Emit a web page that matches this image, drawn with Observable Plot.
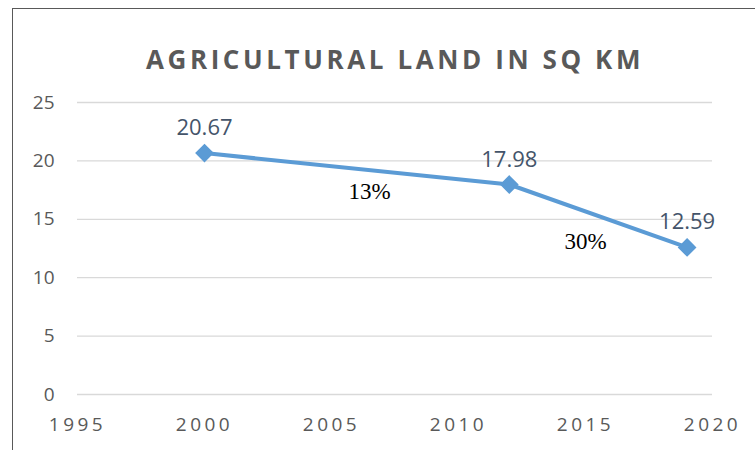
<!DOCTYPE html>
<html>
<head>
<meta charset="utf-8">
<script src="https://cdn.jsdelivr.net/npm/d3@7"></script>
<script src="https://cdn.jsdelivr.net/npm/@observablehq/plot@0.6"></script>
<style>
  body { margin: 0; background: #fff; }
  #wrap { position: relative; width: 755px; height: 450px; overflow: hidden; }
  #border { position: absolute; left: 12px; top: 8px; width: 800px; height: 500px; border: 1.5px solid #595959; }
  #chart { position: absolute; left: 0; top: 0; }
  #chart [aria-label="x-axis tick label"] text { letter-spacing: 3.5px; }
</style>
</head>
<body>
<div id="wrap"><div id="border"></div><div id="chart"></div></div>
<script>
const title = "AGRICULTURAL LAND IN SQ KM";
const years = [2000, 2012, 2019];
const values = [20.67, 17.98, 12.59];
const valueLabels = ["20.67", "17.98", "12.59"];
const xTicks = [1995, 2000, 2005, 2010, 2015, 2020];
const yTicks = [0, 5, 10, 15, 20, 25];
const noteLabels = ["13%", "30%"];
const noteX = [2006.5, 2015.0];
const noteY = [17.4, 13.05];

const points = years.map((y, i) => ({year: y, value: values[i], label: valueLabels[i]}));
const notes = noteLabels.map((t, i) => ({x: noteX[i], y: noteY[i], t}));

const chart = Plot.plot({
  width: 755,
  height: 450,
  marginLeft: 77,
  marginRight: 43,
  marginTop: 102,
  marginBottom: 56,
  style: {fontFamily: "'Open Sans', sans-serif", background: "transparent"},
  x: {domain: [1995, 2020]},
  y: {domain: [0, 25]},
  marks: [
    Plot.gridY(yTicks, {stroke: "#d9d9d9", strokeOpacity: 1, strokeWidth: 1.3}),
    Plot.axisY(yTicks, {tickSize: 0, tickPadding: 23, fontSize: 19, fill: "#595959", label: null}),
    Plot.axisX(xTicks, {tickSize: 0, tickPadding: 23, fontSize: 19, fill: "#595959", label: null, tickFormat: d => String(d)}),
    Plot.line(points, {x: "year", y: "value", stroke: "#5B9BD5", strokeWidth: 4}),
    Plot.dot(points, {x: "year", y: "value", symbol: "diamond2", r: 7.5, fill: "#5B9BD5", stroke: "#5B9BD5"}),
    Plot.text(points, {x: "year", y: "value", text: "label", dy: -25, fontSize: 22, fill: "#44546A"}),
    Plot.text(notes, {x: "x", y: "y", text: "t", fontSize: 23, fill: "#000", fontFamily: "'Liberation Serif', serif"}),
    Plot.text([title], {frameAnchor: "top", dy: -52, fontSize: 26, fontWeight: "bold", fill: "#595959"})
  ]
});
document.getElementById("chart").appendChild(chart);
chart.querySelectorAll("text").forEach(t => { if (t.textContent === title) t.style.letterSpacing = "3.6px"; });
</script>
</body>
</html>
